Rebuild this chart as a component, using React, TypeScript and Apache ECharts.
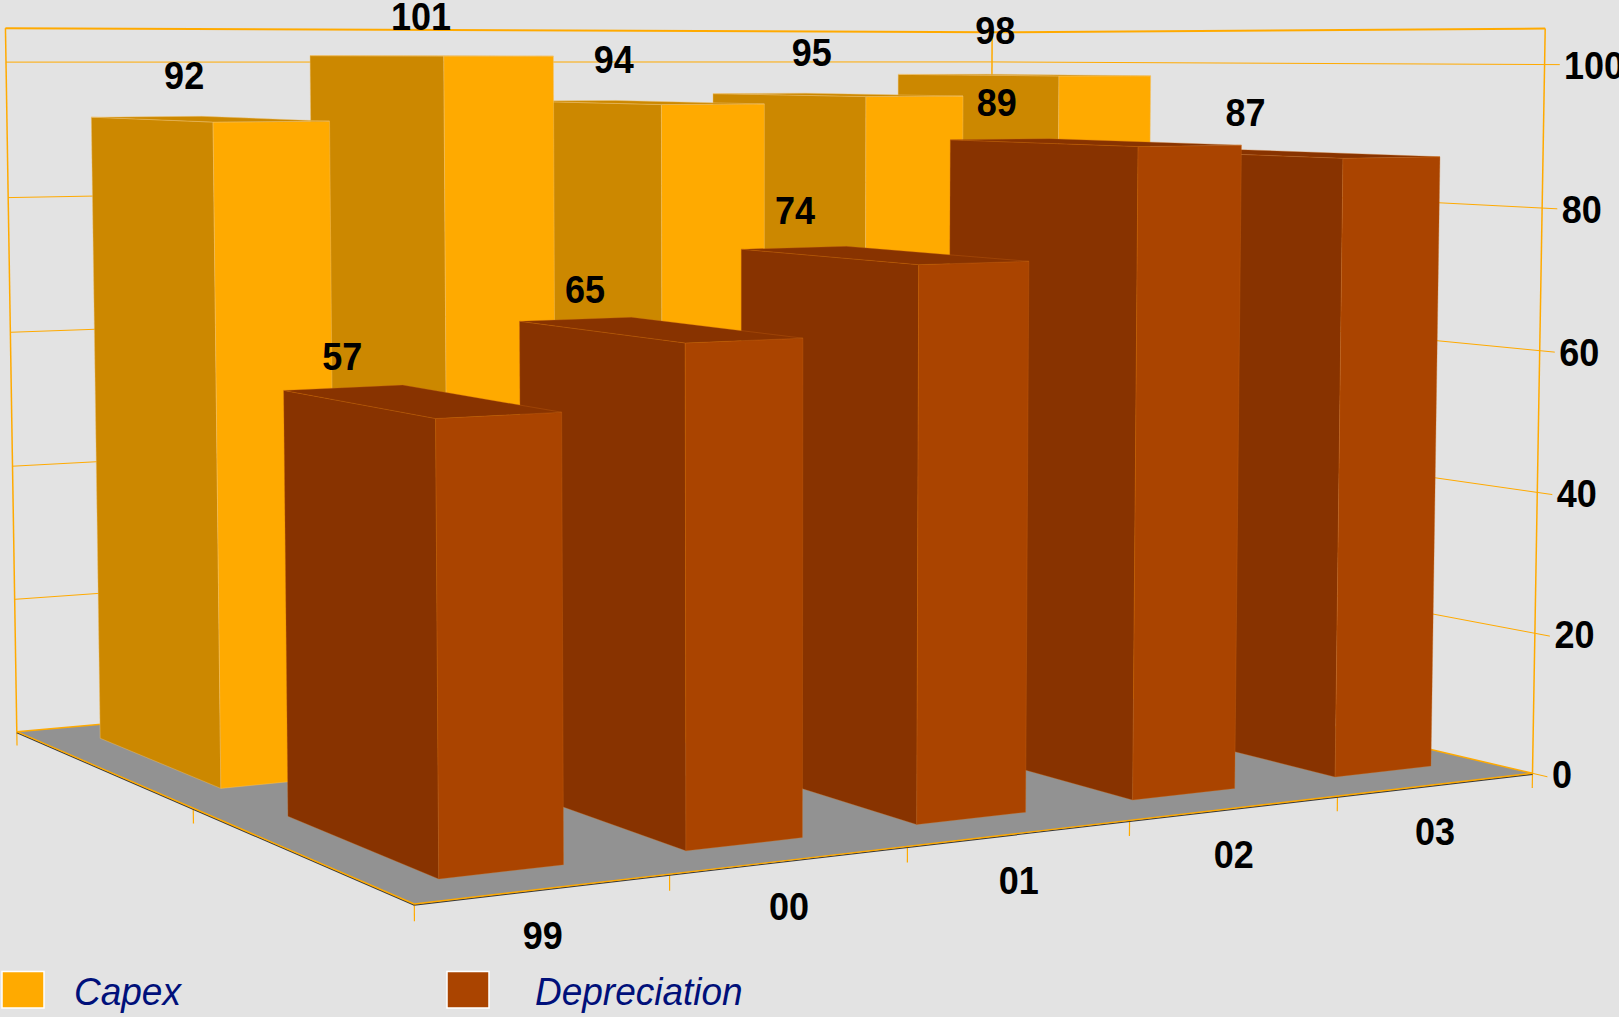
import React, { useEffect, useRef } from "react";
import * as echarts from "echarts";

// Chart data
const categories = ["99", "00", "01", "02", "03"];
const capex = [92, 101, 94, 95, 98];
const depreciation = [57, 65, 74, 89, 87];
const valueTicks = [0, 20, 40, 60, 80, 100];
const VALUE_MAX = 105;

// Screen offset of each value label from the centre of its bar's top face
const capexLabelNudge = [[-23, -44], [-7.5, -39], [-24, -43], [-23, -42], [-26, -45]];
const depreciationLabelNudge = [[-76, -44], [-72, -40], [-86, -45], [-95, -40], [-44, -41]];

// Colours
const BACKGROUND = "#E3E3E3";
const FLOOR = "#929292";
const AXIS = "#FFAA00";
const CAPEX_LIGHT = "#FFAA00";
const CAPEX_DARK = "#CC8800";
const CAPEX_EDGE = "rgba(240,195,110,0.6)";
const DEP_LIGHT = "#AA4400";
const DEP_DARK = "#883300";
const DEP_EDGE = "rgba(205,105,20,0.45)";
const LEGEND_TEXT = "#00107A";
const FONT = "Liberation Sans";

// Perspective camera: maps (u, v, t) = (position along the categories, depth,
// value share of 100) in homogeneous form to the page.
const CAM_X = [1399.26, -393.255, -13.64, 414.3];
const CAM_Y = [11.12, 12.6, -839.9, 904];
const CAM_W = [0.1834, 0.2527, -0.01809, 1];
const DEPTH_SLOTS = 2;

function project(x: number, t: number, z: number): [number, number] {
  const u = x / categories.length;
  const v = z / DEPTH_SLOTS;
  const w = CAM_W[0] * u + CAM_W[1] * v + CAM_W[2] * t + CAM_W[3];
  return [
    (CAM_X[0] * u + CAM_X[1] * v + CAM_X[2] * t + CAM_X[3]) / w,
    (CAM_Y[0] * u + CAM_Y[1] * v + CAM_Y[2] * t + CAM_Y[3]) / w,
  ];
}

// Reads the hidden axes' scales: a data pair becomes a category position and a value share.
function toWorld(params: any, api: any, cat: number, value: number): [number, number] {
  const cs = params.coordSys;
  const c = api.coord([cat, value]);
  return [
    ((c[0] - cs.x) / cs.width) * categories.length,
    (((cs.y + cs.height - c[1]) / cs.height) * VALUE_MAX) / 100,
  ];
}

function seg(a: [number, number], b: [number, number], stroke: string, lineWidth: number, z2 = 0, dy = 0) {
  return {
    type: "line",
    silent: true,
    z2,
    shape: { x1: a[0], y1: a[1] + dy, x2: b[0], y2: b[1] + dy },
    style: { stroke, lineWidth },
  };
}

function label(text: string, x: number, y: number, align: string, z2: number) {
  return {
    type: "text",
    silent: true,
    z2,
    x,
    y,
    scaleY: 1.07,
    style: {
      text,
      x: 0,
      y: 0,
      fontFamily: FONT,
      fontWeight: "bold",
      fontSize: 36,
      fill: "#000",
      align,
      verticalAlign: "middle",
    },
  };
}

function barSeries(
  name: string,
  values: number[],
  depthSlot: number,
  light: string,
  dark: string,
  edge: string,
  nudge: number[][],
  z: number,
) {
  const halfWidth = 0.248;
  const halfDepth = 1 / 3;
  const zMid = depthSlot + 0.5;
  return {
    type: "custom",
    name,
    coordinateSystem: "cartesian2d",
    z,
    itemStyle: { color: light },
    encode: { x: 0, y: 1 },
    data: values.map((v, i) => [i, v]),
    renderItem: (params: any, api: any) => {
      const i = api.value(0) as number;
      const [xMid, t] = toWorld(params, api, i, api.value(1) as number);
      const x0 = xMid - halfWidth;
      const x1 = xMid + halfWidth;
      const z0 = zMid - halfDepth;
      const z1 = zMid + halfDepth;
      const order = 10 - i;
      const face = (pts: [number, number][], fill: string) => ({
        type: "polygon",
        silent: true,
        z2: order,
        shape: { points: pts },
        style: { fill, stroke: edge, lineWidth: 0.7 },
      });
      const centre = project(xMid, t, zMid);
      return {
        type: "group",
        children: [
          face([project(x0, 0, z0), project(x0, 0, z1), project(x0, t, z1), project(x0, t, z0)], dark),
          face([project(x0, 0, z0), project(x1, 0, z0), project(x1, t, z0), project(x0, t, z0)], light),
          face([project(x0, t, z0), project(x1, t, z0), project(x1, t, z1), project(x0, t, z1)], dark),
          label(String(api.value(1)), centre[0] + nudge[i][0], centre[1] + nudge[i][1], "center", 100),
        ],
      };
    },
  };
}

// Floor slab and the outline of the two walls
const floorSeries = {
  type: "custom",
  name: "floor",
  coordinateSystem: "cartesian2d",
  z: 1,
  data: [[0, 0]],
  renderItem: () => {
    const n = categories.length;
    const top = VALUE_MAX / 100;
    const a = project(0, 0, 0);
    const b = project(n, 0, 0);
    const c = project(0, 0, DEPTH_SLOTS);
    const d = project(n, 0, DEPTH_SLOTS);
    const ct = project(0, top, DEPTH_SLOTS);
    const bt = project(n, top, 0);
    const dt = project(n, top, DEPTH_SLOTS);
    const tickDown = -0.021;
    const depthTicks = [0, 1, 2].map((z) =>
      seg(project(0, 0, z), project(0, tickDown, z), AXIS, 1.2),
    );
    return {
      type: "group",
      children: [
        { type: "polygon", silent: true, shape: { points: [a, b, d, c] }, style: { fill: FLOOR } },
        seg(c, ct, AXIS, 1.5),
        seg(b, bt, AXIS, 1.5),
        seg(d, dt, AXIS, 1.5),
        seg(ct, dt, AXIS, 2),
        seg(dt, bt, AXIS, 2),
        seg(c, d, AXIS, 1.5),
        seg(b, d, AXIS, 1.5),
        seg(a, b, "#3A3A3A", 1.4, 1, 1),
        seg(a, b, AXIS, 1.4, 2),
        seg(a, c, "#3A3A3A", 1.4, 1, 1),
        seg(a, c, AXIS, 1.4, 2),
        ...depthTicks,
      ],
    };
  },
};

// Wall grid lines, outer ticks and value labels
const gridSeries = {
  type: "custom",
  name: "values",
  coordinateSystem: "cartesian2d",
  z: 1,
  data: valueTicks.map((v) => [0, v]),
  renderItem: (params: any, api: any) => {
    const n = categories.length;
    const value = api.value(1) as number;
    const [, t] = toWorld(params, api, 0, value);
    const corner = project(n, t, 0);
    const tickEnd = project(n, t, -0.045);
    const children: any[] = [
      seg(tickEnd, corner, AXIS, 1),
      label(String(value), corner[0] + 19.5, corner[1] + 1.5, "left", 50),
    ];
    if (value > 0) {
      children.push(seg(corner, project(n, t, DEPTH_SLOTS), AXIS, 1));
      children.push(seg(project(n, t, DEPTH_SLOTS), project(0, t, DEPTH_SLOTS), AXIS, 1));
    }
    return { type: "group", children };
  },
};

// Category ticks along the front edge, with their labels
const categorySeries = {
  type: "custom",
  name: "categories",
  coordinateSystem: "cartesian2d",
  z: 1,
  data: categories.map((_, i) => [i, 0]),
  renderItem: (params: any, api: any) => {
    const i = api.value(0) as number;
    const [xMid] = toWorld(params, api, i, 0);
    const tickDown = -0.021;
    const mid = project(xMid, 0, 0);
    const children: any[] = [
      seg(project(i + 1, 0, 0), project(i + 1, tickDown, 0), AXIS, 1.2),
      label(categories[i], mid[0] - 1.5, mid[1] + 47, "center", 50),
    ];
    return { type: "group", children };
  },
};

// Legend: a bordered swatch and an italic name for each series
function legendEntry(name: string, color: string, swatchX: number, textX: number) {
  return [
    {
      type: "rect",
      silent: true,
      shape: { x: swatchX, y: 971.5, width: 42, height: 36.5 },
      style: { fill: color, stroke: "#FFFFFF", lineWidth: 1.5 },
    },
    {
      type: "text",
      silent: true,
      x: textX,
      y: 992,
      scaleY: 1.05,
      style: {
        text: name,
        x: 0,
        y: 0,
        fontFamily: FONT,
        fontStyle: "italic",
        fontSize: 37,
        fill: LEGEND_TEXT,
        align: "left",
        verticalAlign: "middle",
      },
    },
  ];
}

export default function App() {
  const ref = useRef<HTMLDivElement>(null);

  useEffect(() => {
    document.body.style.margin = "0";
    document.body.style.overflow = "hidden";
    const chart = echarts.init(ref.current!, undefined, { renderer: "svg" });
    chart.setOption({
      animation: false,
      backgroundColor: BACKGROUND,
      tooltip: { show: false },
      grid: { left: 0, right: 0, top: 0, bottom: 0 },
      xAxis: { type: "category", data: categories, show: false },
      yAxis: { type: "value", min: 0, max: VALUE_MAX, show: false },
      graphic: {
        elements: [
          ...legendEntry("Capex", CAPEX_LIGHT, 2, 74),
          ...legendEntry("Depreciation", DEP_LIGHT, 447, 535),
        ],
      },
      series: [
        floorSeries,
        gridSeries,
        categorySeries,
        barSeries("Capex", capex, 1, CAPEX_LIGHT, CAPEX_DARK, CAPEX_EDGE, capexLabelNudge, 2),
        barSeries("Depreciation", depreciation, 0, DEP_LIGHT, DEP_DARK, DEP_EDGE, depreciationLabelNudge, 3),
      ],
    });
    return () => chart.dispose();
  }, []);

  return <div ref={ref} style={{ width: 1619, height: 1017 }} />;
}
